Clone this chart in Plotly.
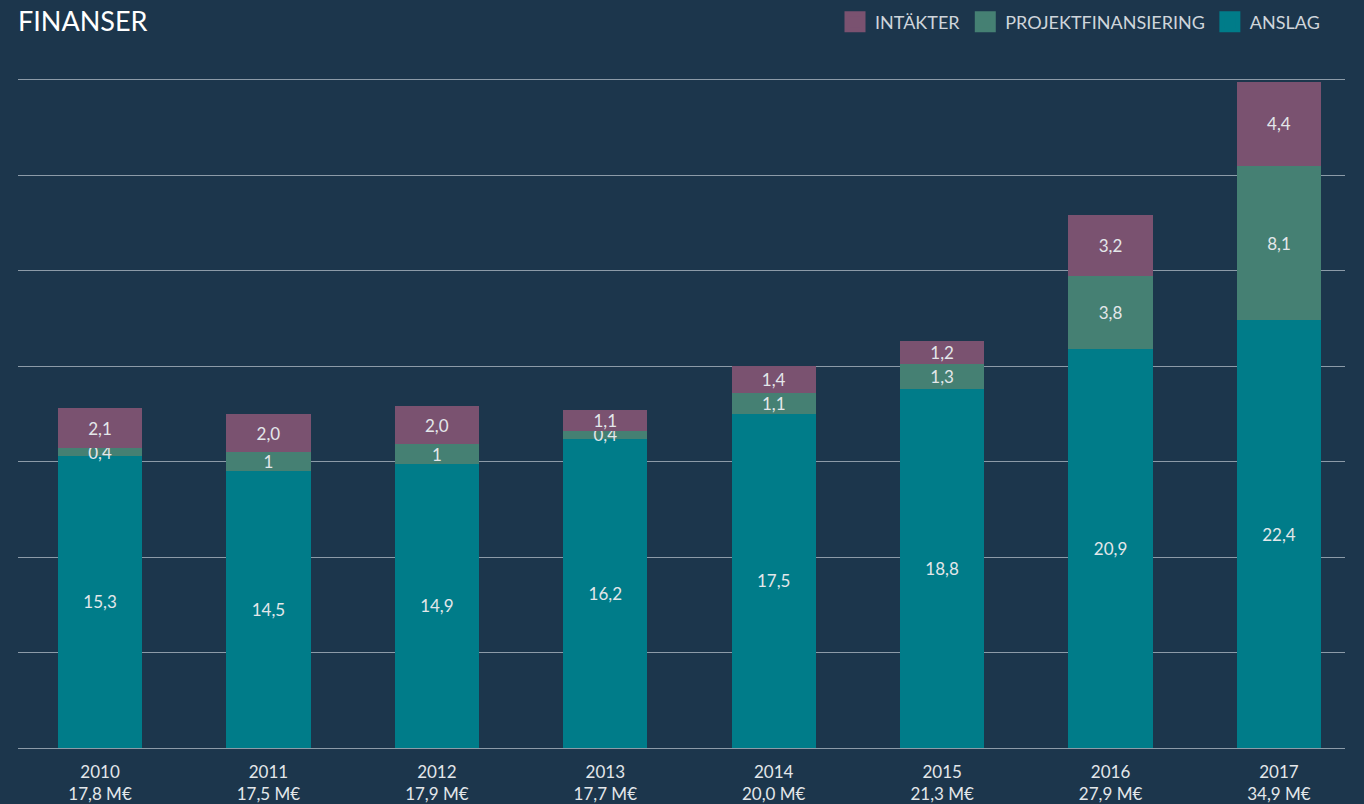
import plotly.graph_objects as go

years = ["2010", "2011", "2012", "2013", "2014", "2015", "2016", "2017"]
anslag = [15.3, 14.5, 14.9, 16.2, 17.5, 18.8, 20.9, 22.4]
projekt = [0.4, 1.0, 1.0, 0.4, 1.1, 1.3, 3.8, 8.1]
intakter = [2.1, 2.0, 2.0, 1.1, 1.4, 1.2, 3.2, 4.4]
projekt_labels = ["0,4", "1", "1", "0,4", "1,1", "1,3", "3,8", "8,1"]

C_INT = "#7a5270"
C_PRO = "#458073"
C_ANS = "#007c89"
BG = "#1c364c"
TXT = "#e3e7ea"
GRID = "#8c9ba8"
FONT = "Lato"


def fmt(v):
    return f"{v:.1f}".replace(".", ",")


totals = [round(a + p + i, 1) for a, p, i in zip(anslag, projekt, intakter)]
cats = [f"{y}<br>{fmt(t)} M€" for y, t in zip(years, totals)]

fig = go.Figure()
common = dict(width=0.5, textposition="inside", insidetextanchor="middle",
              textangle=0, textfont=dict(size=17, color=TXT, family=FONT),
              showlegend=False, hoverinfo="skip")
fig.add_trace(go.Bar(x=cats, y=anslag, name="ANSLAG", marker=dict(color=C_ANS, line=dict(width=0)),
                     text=[fmt(v) for v in anslag], **common))
fig.add_trace(go.Bar(x=cats, y=projekt, name="PROJEKTFINANSIERING", marker=dict(color=C_PRO, line=dict(width=0)),
                     text=projekt_labels, **common))
fig.add_trace(go.Bar(x=cats, y=intakter, name="INTÄKTER", marker=dict(color=C_INT, line=dict(width=0)),
                     text=[fmt(v) for v in intakter], **common))

# legend entries
for name, col in [("INTÄKTER", C_INT), ("PROJEKTFINANSIERING", C_PRO), ("ANSLAG", C_ANS)]:
    fig.add_trace(go.Scatter(x=[None], y=[None], mode="markers", name=name,
                             marker=dict(symbol="square", size=16, color=col,
                                         line=dict(width=8, color=col))))

fig.update_layout(
    barmode="stack",
    width=1364, height=804,
    paper_bgcolor=BG, plot_bgcolor=BG,
    margin=dict(l=18, r=19, t=76, b=56, autoexpand=False),
    font=dict(family=FONT, color=TXT, size=17),
    title=dict(text="FINANSER", x=18 / 1364, xref="container", xanchor="left",
               y=1 - 22 / 804, yref="container", yanchor="middle",
               font=dict(size=27, color="#ffffff", family=FONT)),
    legend=dict(orientation="h", xref="container", x=1325 / 1364, xanchor="right",
                yref="container", y=1 - 22 / 804, yanchor="middle",
                font=dict(size=18, color="#cfd5db", family=FONT),
                bgcolor="rgba(0,0,0,0)", traceorder="normal", itemclick=False),
    uniformtext=dict(mode="show", minsize=17),
    xaxis=dict(type="category", categoryorder="array", categoryarray=cats,
               range=[-0.487, 7.392], showgrid=False, showline=False, zeroline=False,
               ticks="", ticklabelstandoff=12,
               tickfont=dict(size=17, color=TXT, family=FONT), automargin=False),
    yaxis=dict(range=[0, 35.2], dtick=5, showticklabels=False, showgrid=True,
               gridcolor=GRID, gridwidth=1, zeroline=True, zerolinecolor=GRID,
               zerolinewidth=1, showline=False, automargin=False),
    bargap=0.5,
)

fig.write_html("out.html", config={"displayModeBar": False},
               post_script="document.body.style.margin='0';")
